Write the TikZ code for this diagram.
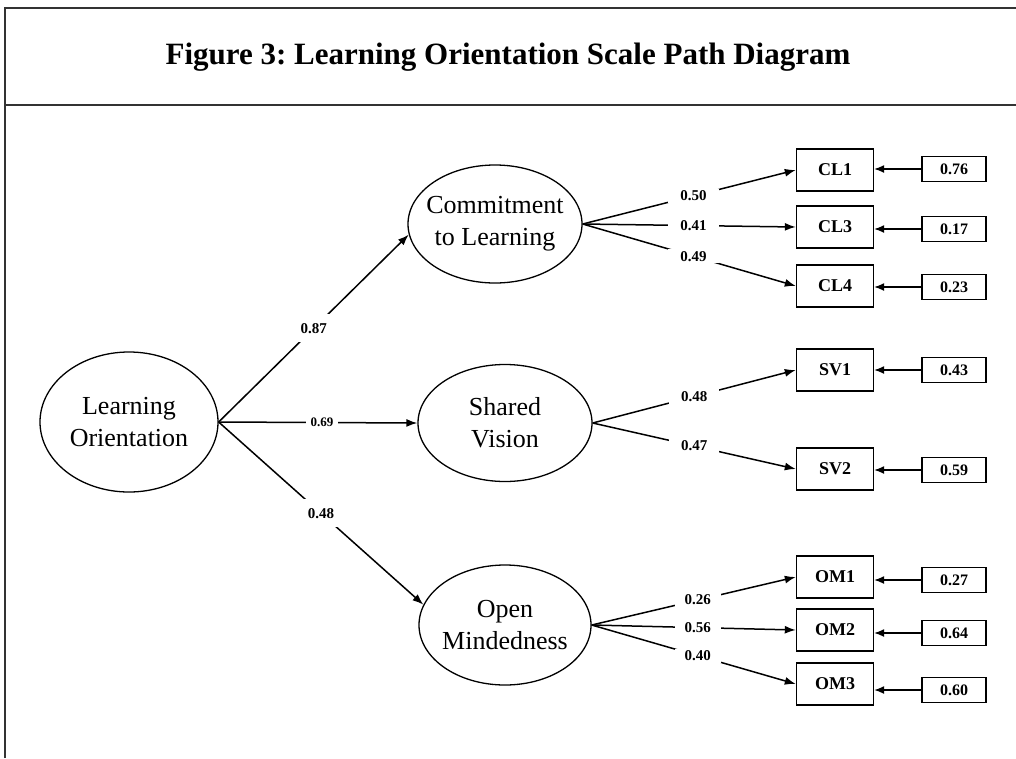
\documentclass[tikz,border=0pt]{standalone}
\usepackage{fontspec}
\setmainfont{Liberation Serif}
\usetikzlibrary{arrows.meta,shapes.geometric}
\frenchspacing
\begin{document}
\begin{tikzpicture}[x=1pt,y=-1pt,
  latent/.style={ellipse,draw,line width=1.3pt,inner sep=0pt},
  ltext/.style={align=center,font=\fontsize{26}{32}\selectfont,inner sep=0pt},
  ind/.style={draw,line width=1.4pt,minimum width=77pt,minimum height=42pt,font=\fontsize{18}{22}\selectfont\bfseries,inner sep=0pt},
  err/.style={draw,line width=1.4pt,minimum width=64pt,minimum height=25pt,font=\fontsize{16}{18}\selectfont\bfseries,inner sep=0pt},
  arr/.style={-{Latex[length=11pt,width=8pt]},line width=1.5pt},
  earr/.style={-{Latex[length=10pt,width=8pt]},line width=1.3pt},
  lab/.style={fill=white,font=\fontsize{15}{17}\selectfont\bfseries,inner xsep=12pt,inner ysep=2pt},
  frame/.style={draw=black!80,line width=1.5pt}
]
\useasboundingbox (0,0) rectangle (1016,758);
% frame
\draw[frame] (5,758) -- (5,8) -- (1016,8);
\draw[frame] (5,105) -- (1016,105);
\node[font=\fontsize{31}{36}\selectfont\bfseries] (title) at (508,57) {Figure 3: Learning Orientation Scale Path Diagram};

% latent variables
\node[latent,minimum width=178pt,minimum height=140pt] (lo) at (129,422) {};
\node[ltext] (lot) at (lo) {Learning\\Orientation};
\node[latent,minimum width=174pt,minimum height=118pt] (ctl) at (495,224) {};
\node[ltext] (ctlt) at (ctl) {Commitment\\to Learning};
\node[latent,minimum width=174pt,minimum height=117pt] (sv) at (505,423) {};
\node[ltext] (svt) at (sv) {Shared\\Vision};
\node[latent,minimum width=172pt,minimum height=120pt] (om) at (505,625) {};
\node[ltext] (omt) at (om) {Open\\Mindedness};

% indicators
\node[ind] (cl1) at (835,170) {CL1};
\node[ind] (cl3) at (835,227) {CL3};
\node[ind] (cl4) at (835,286) {CL4};
\node[ind] (sv1) at (835,370) {SV1};
\node[ind] (sv2) at (835,469) {SV2};
\node[ind] (om1) at (835,577) {OM1};
\node[ind] (om2) at (835,630) {OM2};
\node[ind] (om3) at (835,684) {OM3};

% error terms
\node[err] (e1) at (954,169) {0.76};
\node[err] (e2) at (954,229) {0.17};
\node[err] (e3) at (954,287) {0.23};
\node[err] (e4) at (954,370) {0.43};
\node[err] (e5) at (954,470) {0.59};
\node[err] (e6) at (954,580) {0.27};
\node[err] (e7) at (954,633) {0.64};
\node[err] (e8) at (954,690) {0.60};

% structural paths
\draw[arr] (lo.east) -- node[lab,pos=0.5,inner xsep=9pt,inner ysep=9pt]{0.87} (ctl.187);
\draw[arr] (lo.east) -- node[lab,pos=0.52,inner xsep=5pt,font=\fontsize{13}{16}\selectfont\bfseries]{0.69} (sv.west);
\draw[arr] (lo.east) -- node[lab,pos=0.5,inner xsep=9pt,inner ysep=9pt]{0.48} (om.166);

% loadings
\draw[arr] (ctl.east) -- node[lab,pos=0.52]{0.50} (cl1.west);
\draw[arr] (ctl.east) -- node[lab,pos=0.52]{0.41} (cl3.west);
\draw[arr] (ctl.east) -- node[lab,pos=0.52]{0.49} (cl4.west);
\draw[arr] (sv.east) -- node[lab,pos=0.5]{0.48} (sv1.west);
\draw[arr] (sv.east) -- node[lab,pos=0.5]{0.47} (sv2.west);
\draw[arr] (om.east) -- node[lab,pos=0.52,inner xsep=10pt]{0.26} (om1.west);
\draw[arr] (om.east) -- node[lab,pos=0.52,inner xsep=10pt]{0.56} (om2.west);
\draw[arr] (om.east) -- node[lab,pos=0.52,inner xsep=10pt]{0.40} (om3.west);

% error arrows
\draw[earr] (e1.west) -- (e1.west -| cl1.east);
\draw[earr] (e2.west) -- (e2.west -| cl3.east);
\draw[earr] (e3.west) -- (e3.west -| cl4.east);
\draw[earr] (e4.west) -- (e4.west -| sv1.east);
\draw[earr] (e5.west) -- (e5.west -| sv2.east);
\draw[earr] (e6.west) -- (e6.west -| om1.east);
\draw[earr] (e7.west) -- (e7.west -| om2.east);
\draw[earr] (e8.west) -- (e8.west -| om3.east);
\end{tikzpicture}
\end{document}
